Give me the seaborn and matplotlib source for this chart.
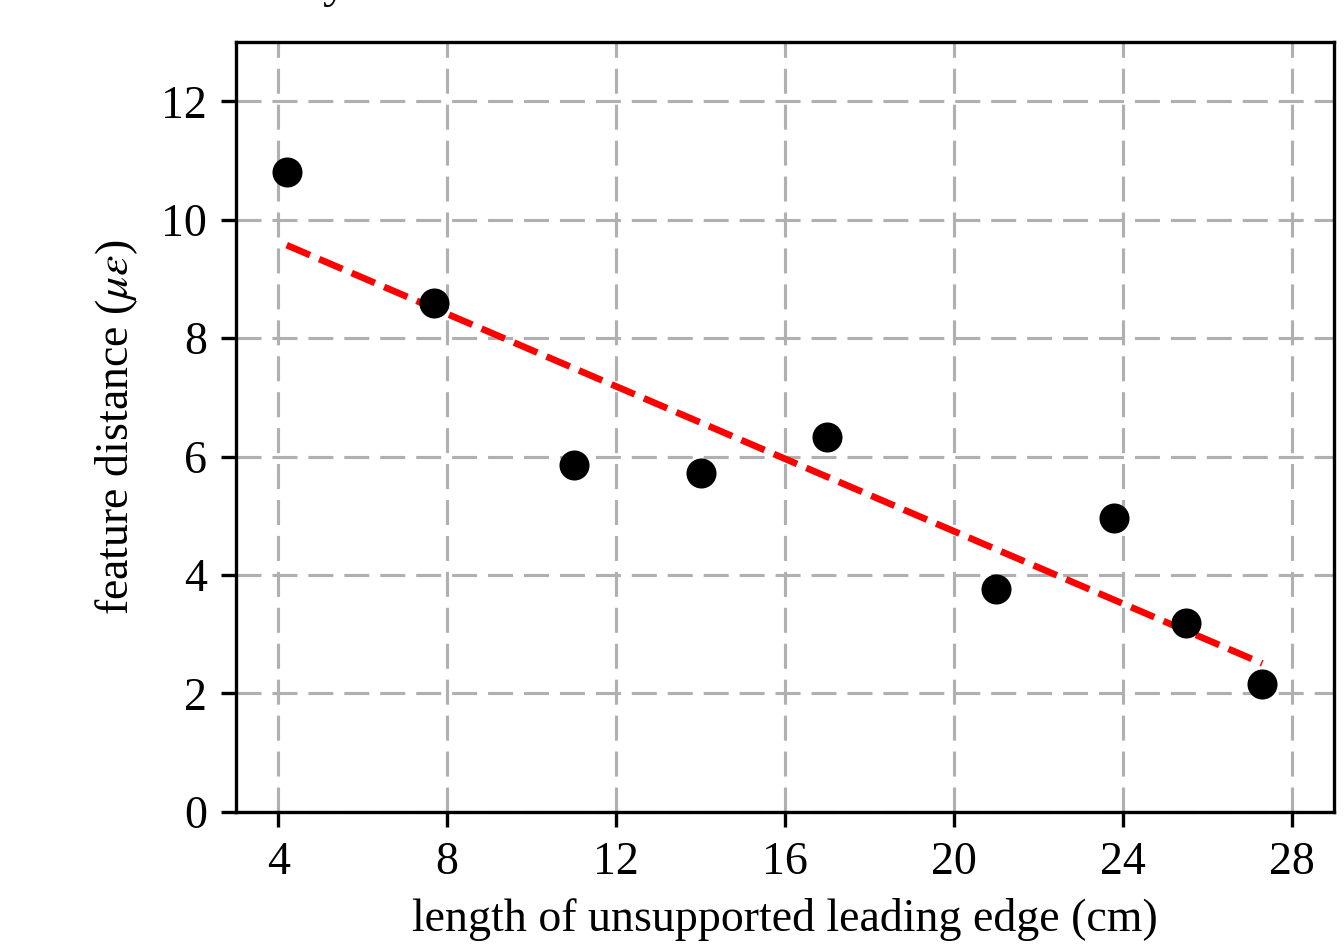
import numpy as np
import pandas as pd
import matplotlib
matplotlib.use("Agg")
import matplotlib.pyplot as plt
import seaborn as sns

# longitud del borde de ataque sin soporte (cm) y distancia de caracteristicas
longitud = [4.2, 7.7, 11.0, 14.0, 17.0, 21.0, 23.8, 25.5, 27.3]
distancia = [10.8, 8.59, 5.86, 5.72, 6.33, 3.76, 4.96, 3.19, 2.16]
xticks = [4, 8, 12, 16, 20, 24, 28]
yticks = [0, 2, 4, 6, 8, 10, 12]

df = pd.DataFrame({"longitud": longitud, "distancia": distancia})

sns.set_style("white")
plt.rcParams["font.family"] = ["Liberation Serif", "DejaVu Serif"]
plt.rcParams["mathtext.fontset"] = "stix"
plt.rcParams["font.size"] = 11
for k in ["text.color", "axes.labelcolor", "xtick.color", "ytick.color"]:
    plt.rcParams[k] = "black"

fig = plt.figure(figsize=(4.48, 3.157), dpi=300)
ax = fig.add_axes([0.1756, 0.1426, 0.817, 0.813])

sns.regplot(data=df, x="longitud", y="distancia", ax=ax, ci=None,
            scatter_kws={"color": "black", "s": 52, "alpha": 1, "linewidths": 0, "zorder": 3},
            line_kws={"color": "red", "lw": 1.6, "linestyle": (0, (3.8, 1.5)), "zorder": 2})

ax.set_xlim(3, 29)
ax.set_ylim(0, 13)
ax.set_xticks(xticks)
ax.set_yticks(yticks)
ax.set_axisbelow(True)
ax.grid(True, color="#b0b0b0", lw=0.75, linestyle=(0, (8, 3.5)))
ax.tick_params(direction="out", length=3.5, width=0.8, color="black",
               bottom=True, left=True, labelsize=11)
for s in ax.spines.values():
    s.set_color("black")
    s.set_linewidth(0.8)

ax.set_xlabel("length of unsupported leading edge (cm)", fontsize=11, labelpad=3.5)
ax.set_ylabel(r"feature distance ($\mu\varepsilon$)", fontsize=11, labelpad=5)

# resto del titulo que queda cortado arriba
fig.text(0.249, 1.004, "y", fontsize=12, va="baseline", ha="center")

fig.savefig("out.png", dpi=300)
